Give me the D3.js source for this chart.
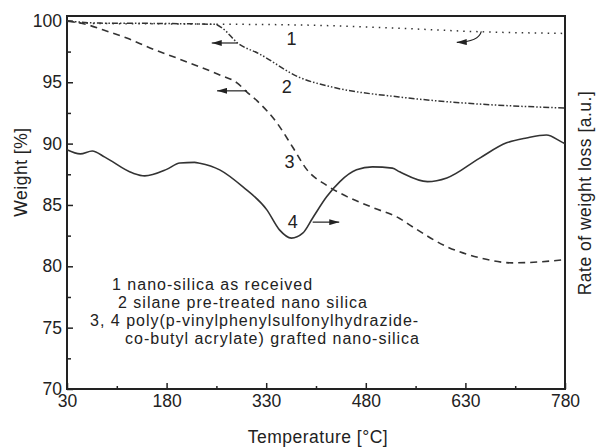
<!DOCTYPE html>
<html>
<head>
<meta charset="utf-8">
<script src="https://cdn.jsdelivr.net/npm/d3@7"></script>
<style>
  body { margin: 0; background: #fff; }
  svg text { font-family: "Liberation Sans", Arial, Helvetica, sans-serif; fill: #222; }
</style>
</head>
<body>
<svg id="chart" width="598" height="448"></svg>
<script>
// curve 1: nano-silica as received (weight %)
const temps1 = [30, 60, 200, 380, 530, 650, 780];
const weight1 = [100, 99.8, 99.75, 99.67, 99.4, 99.12, 98.98];

// curve 2: silane pre-treated nano silica (weight %)
const temps2 = [30, 80, 150, 253, 263, 287, 320, 380, 430, 530, 630, 780];
const weight2 = [100, 99.82, 99.8, 99.72, 99.45, 98.2, 97.3, 95.4, 94.6, 93.8, 93.3, 92.9];

// curve 3: grafted nano-silica (weight %)
const temps3 = [30, 60, 84, 120, 155, 195, 230, 260, 286, 301, 316, 346, 370, 391, 421, 451, 490, 531, 551, 602, 651, 701, 742, 780];
const weight3 = [100, 99.7, 99.27, 98.6, 97.8, 96.98, 96.25, 95.6, 94.95, 94.2, 93.5, 91.7, 89.7, 87.9, 86.6, 85.7, 84.8, 83.9, 83.2, 81.6, 80.7, 80.28, 80.36, 80.55];

// curve 4: grafted nano-silica, rate of weight loss (a.u.)
const temps4 = [30, 50, 68, 87, 129, 147, 180, 200, 222, 230, 260, 295, 331, 350, 368, 385, 400, 421, 441, 466, 490, 520, 531, 573, 602, 651, 692, 722, 752, 776, 780];
const rate4 = [89.5, 89.16, 89.4, 88.9, 87.6, 87.37, 87.9, 88.42, 88.47, 88.4, 87.86, 86.47, 84.6, 82.97, 82.3, 82.7, 83.94, 85.66, 86.9, 87.86, 88.1, 88.0, 87.7, 86.9, 87.2, 88.8, 90.06, 90.46, 90.7, 90.1, 90.0];

const xTicks = [30, 180, 330, 480, 630, 780];
const yTicks = [70, 75, 80, 85, 90, 95, 100];

const curveLabels = ["1", "2", "3", "4"];
const labelT = [368, 361, 365, 370];
const labelV = [98.05, 94.1, 88.05, 83.1];

const legendLines = [
  "1 nano-silica as received",
  "2 silane pre-treated nano silica",
  "3, 4 poly(p-vinylphenylsulfonylhydrazide-",
  "co-butyl acrylate) grafted nano-silica"
];

const svg = d3.select("#chart");
const mLeft = 67, mRight = 565, mTop = 16, mBottom = 389;
const ink = "#333";
const textStyle = s => s.style("font-size", "17.5px").style("letter-spacing", "0.5px");

const x = d3.scaleLinear().domain([30, 780]).range([mLeft, mRight]);
const y = d3.scaleLinear().domain([70, 100.4]).range([mBottom, mTop]);
const yR = d3.scaleLinear().domain([70, 100.4]).range([mBottom, mTop]);

// minor ticks
const xMinor = d3.range(105, 780, 150);
const yMinor = d3.range(72.5, 100, 5);

svg.append("g")
  .attr("transform", `translate(0,${mBottom})`)
  .call(d3.axisBottom(x).tickValues(xMinor).tickSizeInner(-3).tickSizeOuter(0).tickFormat(""))
  .call(g => g.select(".domain").remove());
svg.append("g")
  .attr("transform", `translate(${mLeft},0)`)
  .call(d3.axisLeft(y).tickValues(yMinor).tickSizeInner(-4).tickSizeOuter(0).tickFormat(""))
  .call(g => g.select(".domain").remove());

const xAxis = svg.append("g")
  .attr("transform", `translate(0,${mBottom})`)
  .call(d3.axisBottom(x).tickValues(xTicks).tickSizeInner(-6).tickSizeOuter(0).tickPadding(6));
xAxis.select(".domain").remove();
xAxis.selectAll("text").style("font-size", "17.5px");

const yAxis = svg.append("g")
  .attr("transform", `translate(${mLeft},0)`)
  .call(d3.axisLeft(y).tickValues(yTicks).tickSizeInner(-6).tickSizeOuter(0).tickPadding(5));
yAxis.select(".domain").remove();
yAxis.selectAll("text").style("font-size", "17.5px");

svg.selectAll(".tick line").attr("stroke", "#222").attr("stroke-width", 1.5);

// frame
svg.append("rect")
  .attr("x", x(30)).attr("y", y(100.4))
  .attr("width", x(780) - x(30)).attr("height", y(70) - y(100.4))
  .attr("fill", "none").attr("stroke", "#222").attr("stroke-width", 2);

const line = d3.line().x(d => x(d[0])).y(d => y(d[1])).curve(d3.curveMonotoneX);
const lineR = d3.line().x(d => x(d[0])).y(d => yR(d[1])).curve(d3.curveMonotoneX);

svg.append("path").datum(d3.zip(temps1, weight1))
  .attr("d", line).attr("fill", "none").attr("stroke", ink)
  .attr("stroke-width", 1.5).attr("stroke-dasharray", "1.5,5");
svg.append("path").datum(d3.zip(temps2, weight2))
  .attr("d", line).attr("fill", "none").attr("stroke", ink)
  .attr("stroke-width", 1.5).attr("stroke-dasharray", "6,2,1.5,2,1.5,2");
svg.append("path").datum(d3.zip(temps3, weight3))
  .attr("d", line).attr("fill", "none").attr("stroke", ink)
  .attr("stroke-width", 1.6).attr("stroke-dasharray", "7,5");
svg.append("path").datum(d3.zip(temps4, rate4))
  .attr("d", lineR).attr("fill", "none").attr("stroke", ink)
  .attr("stroke-width", 1.6);

// arrows
svg.append("defs").append("marker")
  .attr("id", "head").attr("viewBox", "0 0 10 6")
  .attr("refX", 10).attr("refY", 3)
  .attr("markerWidth", 10).attr("markerHeight", 6)
  .attr("markerUnits", "userSpaceOnUse").attr("orient", "auto")
  .append("path").attr("d", "M0,0 L10,3 L0,6 Z").attr("fill", "#222");

const arrows = [
  [[287, 98.2], [248, 98.2]],
  [[301, 94.3], [256, 94.3]],
  [[400, 83.6], [440, 83.6]]
];
arrows.forEach(a => {
  svg.append("line")
    .attr("x1", x(a[0][0])).attr("y1", y(a[0][1]))
    .attr("x2", x(a[1][0])).attr("y2", y(a[1][1]))
    .attr("stroke", "#222").attr("stroke-width", 1.2)
    .attr("marker-end", "url(#head)");
});
// curly arrow for curve 1
svg.append("path")
  .attr("d", `M${x(654)},${y(99.15)} Q${x(650)},${y(98.3)} ${x(617)},${y(98.25)}`)
  .attr("fill", "none").attr("stroke", "#222").attr("stroke-width", 1.2)
  .attr("marker-end", "url(#head)");

// curve numbers
svg.selectAll(".clabel").data(curveLabels).enter().append("text")
  .attr("class", "clabel")
  .attr("x", (d, i) => x(labelT[i])).attr("y", (d, i) => y(labelV[i]))
  .attr("text-anchor", "middle").style("font-size", "18px")
  .text(d => d);

// legend text
const legendX = [112, 118, 90, 125];
const legendY = [290, 308, 326, 344];
svg.selectAll(".leg").data(legendLines).enter().append("text")
  .attr("class", "leg")
  .attr("x", (d, i) => legendX[i]).attr("y", (d, i) => legendY[i])
  .style("font-size", "16px").style("letter-spacing", "1px")
  .text(d => d);

// axis titles
svg.append("text").attr("x", (mLeft + mRight) / 2 + 2).attr("y", 443)
  .attr("text-anchor", "middle").call(textStyle)
  .text("Temperature [°C]");
svg.append("text").attr("transform", "translate(27,172) rotate(-90)")
  .attr("text-anchor", "middle").call(textStyle)
  .text("Weight [%]");
svg.append("text").attr("transform", "translate(591,193) rotate(-90)")
  .attr("text-anchor", "middle").call(textStyle)
  .text("Rate of weight loss [a.u.]");
</script>
</body>
</html>
